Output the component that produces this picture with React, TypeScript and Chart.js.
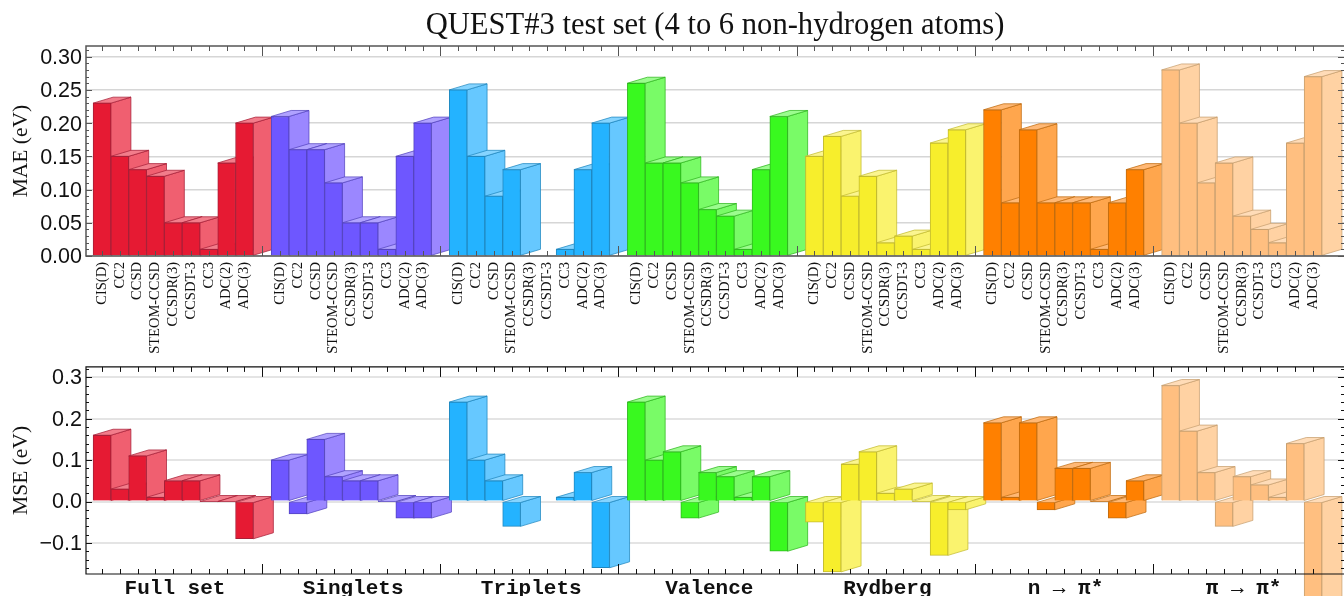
import React, { useEffect, useRef } from "react";
import { Chart, registerables } from "chart.js";

Chart.register(...registerables);

const methods = ["CIS(D)", "CC2", "CCSD", "STEOM-CCSD", "CCSDR(3)", "CCSDT-3", "CC3", "ADC(2)", "ADC(3)"];
const groupNames = ["Full set", "Singlets", "Triplets", "Valence", "Rydberg", "n \u2192 \u03c0*", "\u03c0 \u2192 \u03c0*"];
const maeTicks = [0, 0.05, 0.1, 0.15, 0.2, 0.25, 0.3];
const mseTicks = [-0.1, 0, 0.1, 0.2, 0.3];

const maeFull = [0.23, 0.15, 0.13, 0.12, 0.05, 0.05, 0.01, 0.14, 0.2];
const maeSinglets = [0.21, 0.16, 0.16, 0.11, 0.05, 0.05, 0.01, 0.15, 0.2];
const maeTriplets = [0.25, 0.15, 0.09, 0.13, null, null, 0.01, 0.13, 0.2];
const maeValence = [0.26, 0.14, 0.14, 0.11, 0.07, 0.06, 0.01, 0.13, 0.21];
const maeRydberg = [0.15, 0.18, 0.09, 0.12, 0.02, 0.03, 0.01, 0.17, 0.19];
const maeNPi = [0.22, 0.08, 0.19, 0.08, 0.08, 0.08, 0.01, 0.08, 0.13];
const maePiPi = [0.28, 0.2, 0.11, 0.14, 0.06, 0.04, 0.02, 0.17, 0.27];

const mseFull = [0.16, 0.03, 0.11, 0.01, 0.05, 0.05, 0, 0, -0.09];
const mseSinglets = [0.1, -0.03, 0.15, 0.06, 0.05, 0.05, 0, -0.04, -0.04];
const mseTriplets = [0.24, 0.1, 0.05, -0.06, null, null, 0.01, 0.07, -0.16];
const mseValence = [0.24, 0.1, 0.12, -0.04, 0.07, 0.06, 0.01, 0.06, -0.12];
const mseRydberg = [-0.05, -0.17, 0.09, 0.12, 0.02, 0.03, 0, -0.13, -0.02];
const mseNPi = [0.19, 0.01, 0.19, -0.02, 0.08, 0.08, 0, -0.04, 0.05];
const msePiPi = [0.28, 0.17, 0.07, -0.06, 0.06, 0.04, 0.01, 0.14, -0.25];

const frontColors = ["#e61a33", "#6e57ff", "#24b3ff", "#39f91f", "#f7ee2c", "#ff8000", "#ffbf80"];
const sideColors = ["#f05f70", "#9b87ff", "#66c8ff", "#79fb67", "#faf36e", "#ffa64d", "#ffd2a3"];
const topColors = ["#f27d8b", "#b0a2ff", "#85d4ff", "#9bfc8e", "#fbf590", "#ffb875", "#ffdcb8"];
const edgeColors = ["#a82038", "#5545c0", "#2088c0", "#30b820", "#c4bc30", "#c06c10", "#c8a070"];

const labels: string[] = [];
const barColor: number[] = [];
groupNames.forEach((_, g) => {
  methods.forEach((m) => {
    labels.push(m);
    barColor.push(g);
  });
  labels.push("");
  barColor.push(g);
});

const join = (arrs: (number | null)[][]) => arrs.flatMap((a) => [...a, null]);
const maeValues = join([maeFull, maeSinglets, maeTriplets, maeValence, maeRydberg, maeNPi, maePiPi]);
const mseValues = join([mseFull, mseSinglets, mseTriplets, mseValence, mseRydberg, mseNPi, msePiPi]);

const DEPTH_X = 20;
const DEPTH_Y = -6;
const X_MIN = -0.898;
const X_MAX = 69.74;
const LAST_TICK = 68;

function polygon(ctx: CanvasRenderingContext2D, pts: number[][], fill: string, stroke: string) {
  ctx.beginPath();
  pts.forEach((p, i) => (i ? ctx.lineTo(p[0], p[1]) : ctx.moveTo(p[0], p[1])));
  ctx.closePath();
  ctx.fillStyle = fill;
  ctx.fill();
  ctx.lineWidth = 1;
  ctx.strokeStyle = stroke;
  ctx.globalAlpha = 0.75;
  ctx.stroke();
  ctx.globalAlpha = 1;
}

const depthFaces = {
  id: "depthFaces",
  beforeDatasetsDraw(chart: any) {
    const ctx = chart.ctx;
    const meta = chart.getDatasetMeta(0);
    const values = chart.data.datasets[0].data;
    meta.data.forEach((el: any, i: number) => {
      if (values[i].y === null) return;
      const g = barColor[i];
      const w = el.width;
      const l = el.x - w / 2;
      const r = el.x + w / 2;
      const hi = Math.min(el.y, el.base);
      const lo = Math.max(el.y, el.base);
      polygon(ctx, [[r, hi], [r + DEPTH_X, hi + DEPTH_Y], [r + DEPTH_X, lo + DEPTH_Y], [r, lo]], sideColors[g], edgeColors[g]);
      polygon(ctx, [[l, hi], [l + DEPTH_X, hi + DEPTH_Y], [r + DEPTH_X, hi + DEPTH_Y], [r, hi]], topColors[g], edgeColors[g]);
    });
  },
};

function framePlugin(color: string, lineWidth: number, minorStep: number, majorStep: number) {
  return {
    id: "frame",
    afterDatasetsDraw(chart: any) {
      const { ctx, chartArea: a, scales } = chart;
      ctx.save();
      ctx.strokeStyle = color;
      ctx.lineWidth = lineWidth;
      ctx.beginPath();
      ctx.moveTo(a.right + 1, a.top);
      ctx.lineTo(a.left, a.top);
      ctx.lineTo(a.left, a.bottom);
      ctx.lineTo(a.right + 1, a.bottom);
      ctx.stroke();
      ctx.lineWidth = 1;
      ctx.beginPath();
      for (let i = 0; i <= LAST_TICK; i++) {
        const x = Math.round(scales.x.getPixelForValue(i)) + 0.5;
        const major = i % 10 === 9;
        ctx.moveTo(x, a.top);
        ctx.lineTo(x, a.top + (major ? 10 : 5));
        ctx.moveTo(x, a.bottom);
        ctx.lineTo(x, a.bottom - (major ? 10 : 5));
      }
      const n = Math.ceil(scales.y.min / minorStep);
      for (let k = n; k * minorStep <= scales.y.max + 1e-9; k++) {
        const v = k * minorStep;
        const y = Math.round(scales.y.getPixelForValue(v)) + 0.5;
        const major = Math.abs(v / majorStep - Math.round(v / majorStep)) < 1e-6;
        const len = major ? 6 : 3;
        ctx.moveTo(a.left, y);
        ctx.lineTo(a.left + len, y);
        ctx.moveTo(a.right, y);
        ctx.lineTo(a.right - len, y);
      }
      ctx.stroke();
      ctx.restore();
    },
  };
}

function barDataset(values: (number | null)[]) {
  return {
    data: values.map((v, i) => ({ x: i, y: v })),
    backgroundColor: barColor.map((g) => frontColors[g]),
    borderColor: barColor.map((g) => edgeColors[g]),
    borderWidth: 1,
    barThickness: 17.8,
    clip: false as any,
  };
}

const serif = "'Liberation Serif', serif";
const sans = "'Liberation Sans', sans-serif";
const mono = "'Liberation Mono', monospace";

export default function App() {
  const topRef = useRef<HTMLCanvasElement>(null);
  const botRef = useRef<HTMLCanvasElement>(null);

  useEffect(() => {
    const top = new Chart(topRef.current!, {
      type: "bar",
      data: { datasets: [barDataset(maeValues)] as any },
      plugins: [depthFaces, framePlugin("#555555", 1.5, 0.01, 0.05)],
      options: {
        animation: false,
        responsive: false,
        layout: { padding: 0 },
        plugins: {
          legend: { display: false },
          tooltip: { enabled: false },
          title: {
            display: true,
            text: "QUEST#3 test set (4 to 6 non-hydrogen atoms)",
            fullSize: false,
            color: "#111111",
            font: { family: serif, size: 30.6, weight: "normal" },
            padding: { top: 7.5, bottom: 1.8 },
          },
        },
        scales: {
          x: {
            type: "linear",
            offset: false,
            min: X_MIN,
            max: X_MAX,
            grid: { display: false, drawTicks: false, offset: false },
            border: { display: false },
            afterBuildTicks: (s: any) => {
              s.ticks = labels.map((_, i) => ({ value: i })).filter((t) => labels[t.value] !== "");
            },
            afterFit: (s: any) => {
              s.height = 108;
            },
            ticks: {
              autoSkip: false,
              maxRotation: 90,
              minRotation: 90,
              padding: 6,
              color: "#111111",
              font: { family: serif, size: 14.5 },
              callback: (v: any) => labels[v as number],
            },
          },
          y: {
            min: 0,
            max: 0.316,
            bounds: "data",
            afterBuildTicks: (s: any) => {
              s.ticks = maeTicks.map((value) => ({ value }));
            },
            afterFit: (s: any) => {
              s.width = 86;
            },
            grid: { color: "#d6d6d6", lineWidth: 1.5, drawTicks: false },
            border: { display: false },
            title: {
              display: true,
              text: "MAE (eV)",
              color: "#111111",
              font: { family: serif, size: 21.5, weight: "normal" },
              padding: { top: 8, bottom: 0 },
            },
            ticks: {
              padding: 4,
              labelOffset: 1.5,
              color: "#111111",
              font: { family: sans, size: 21.5 },
              callback: (v: any) => Number(v).toFixed(2),
            },
          },
        },
      } as any,
    });

    const bottom = new Chart(botRef.current!, {
      type: "bar",
      data: { datasets: [barDataset(mseValues)] as any },
      plugins: [depthFaces, framePlugin("#111111", 1.2, 0.02, 0.1)],
      options: {
        animation: false,
        responsive: false,
        layout: { padding: { top: 14 } },
        plugins: { legend: { display: false }, tooltip: { enabled: false }, title: { display: false } },
        scales: {
          x: {
            type: "linear",
            offset: false,
            min: X_MIN,
            max: X_MAX,
            grid: { display: false, drawTicks: false, offset: false },
            border: { display: false },
            afterBuildTicks: (s: any) => {
              s.ticks = groupNames.map((_, i) => ({ value: 4.1 + 10 * i }));
            },
            afterFit: (s: any) => {
              s.height = 22;
            },
            ticks: {
              autoSkip: false,
              maxRotation: 0,
              minRotation: 0,
              padding: 2,
              color: "#111111",
              font: { family: mono, size: 21, weight: "bold" },
              callback: (v: any) => groupNames[Math.round((Number(v) - 4.1) / 10)],
            },
          },
          y: {
            min: -0.175,
            max: 0.325,
            bounds: "data",
            afterBuildTicks: (s: any) => {
              s.ticks = mseTicks.map((value) => ({ value }));
            },
            afterFit: (s: any) => {
              s.width = 86;
            },
            grid: { color: "#e4e4e4", lineWidth: 2, drawTicks: false },
            border: { display: false },
            title: {
              display: true,
              text: "MSE (eV)",
              color: "#111111",
              font: { family: serif, size: 21.5, weight: "normal" },
              padding: { top: 8, bottom: 0 },
            },
            ticks: {
              padding: 4,
              labelOffset: 1,
              color: "#111111",
              font: { family: sans, size: 21.5 },
              callback: (v: any) => (Number(v) < 0 ? "\u2212" : "") + Math.abs(Number(v)).toFixed(1),
            },
          },
        },
      } as any,
    });

    return () => {
      top.destroy();
      bottom.destroy();
    };
  }, []);

  return (
    <div style={{ position: "absolute", left: 0, top: 0, width: 1344, height: 596, overflow: "hidden", background: "#ffffff" }}>
      <canvas ref={topRef} width={1344} height={364} style={{ position: "absolute", left: 0, top: 0 }} />
      <canvas ref={botRef} width={1344} height={246} style={{ position: "absolute", left: 0, top: 350 }} />
    </div>
  );
}
